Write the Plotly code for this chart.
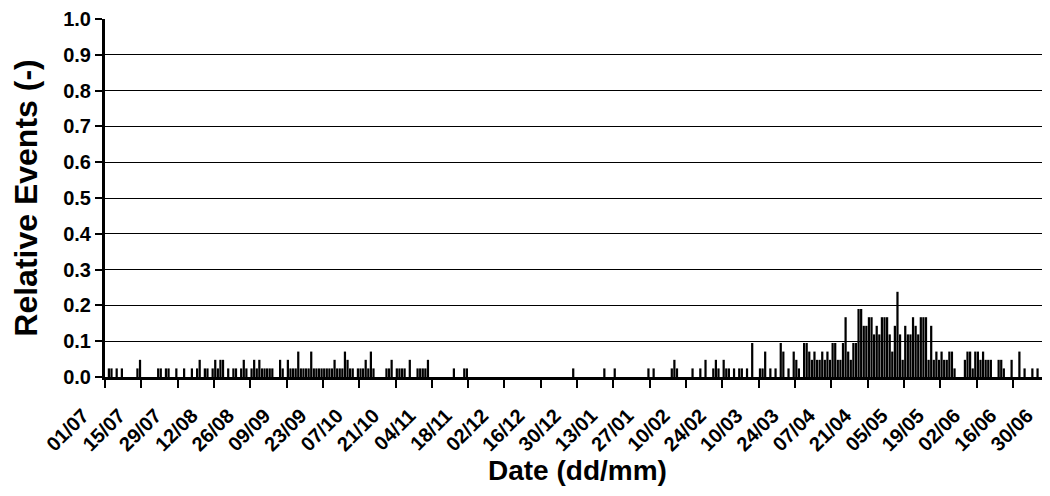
import plotly.graph_objects as go

# Tick labels on the date axis (every 14 days, starting 01/07)
tick_labels = ["01/07", "15/07", "29/07", "12/08", "26/08", "09/09", "23/09",
               "07/10", "21/10", "04/11", "18/11", "02/12", "16/12", "30/12",
               "13/01", "27/01", "10/02", "24/02", "10/03", "24/03", "07/04",
               "21/04", "05/05", "19/05", "02/06", "16/06", "30/06"]

# Daily relative events, one list per month (July .. June)
jul = [0, .024, .024, 0, .024, 0, .024, 0, 0, 0, 0, 0, .024, .048, 0, 0,
       0, 0, 0, 0, .024, .024, 0, .024, .024, 0, 0, .024, 0, 0, .024]
aug = [0, 0, .024, 0, .024, .048, 0, .024, .024, 0, .024, .048, .024, .048,
       .048, 0, .024, 0, .024, .024, 0, .024, .048, .024, 0, .024, .048, .024,
       .048, .024, .024]
sep = [.024, .024, .024, 0, 0, .048, .024, 0, .048, .024, .024, .024, .071,
       .024, .024, .024, .024, .071, .024, .024, .024, .024, .024, .024, .024,
       .024, .048, .024, .024, .024]
oct_ = [.071, .048, .024, .024, 0, .024, .024, .024, .048, .024, .071, .024,
        0, 0, 0, 0, .024, .024, .048, 0, .024, .024, .024, .024, 0, .048, 0,
        0, .024, .024, .024]
nov = [.024, .048, 0, 0, 0, 0, 0, 0, 0, 0, 0, .024, 0, 0, 0, .024, .024, 0,
       0, 0, 0, 0, 0, 0, 0, 0, 0, 0, 0, 0]
dec = [0, 0, 0, 0, 0, 0, 0, 0, 0, 0, 0, 0, 0, 0, 0, 0, 0, 0, 0, 0, 0, 0, 0,
       0, 0, 0, 0, .024, 0, 0, 0]
jan = [0, 0, 0, 0, 0, 0, 0, 0, .024, 0, 0, 0, .024, 0, 0, 0, 0, 0, 0, 0, 0,
       0, 0, 0, 0, .024, 0, .024, 0, 0, 0]
feb = [0, 0, 0, .024, .048, .024, 0, 0, 0, 0, 0, .024, 0, 0, .024, 0, .048,
       0, 0, .024, .048, .024, 0, .048, .024, .024, 0, .024]
mar = [0, .024, .024, 0, .024, 0, .095, 0, 0, .024, .024, .071, 0, .024, 0,
       .024, 0, .095, .071, 0, .024, 0, .071, .048, .024, 0, .095, .095, .071,
       .048, .071]
apr = [.048, .048, .071, .048, .071, .048, .095, .095, .048, .048, .095, .167,
       .071, .048, .095, .095, .190, .190, .143, .143, .167, .167, .119, .143,
       .119, .167, .167, .167, .119, .071]
may = [.143, .238, .119, .048, .143, .119, .119, .167, .143, .119, .167, .167,
       .167, .048, .143, .048, .071, .048, .071, .048, .048, .071, .071, .024,
       0, 0, 0, .048, .071, .071, .024]
jun = [.071, .071, .048, .071, .048, .048, .048, 0, 0, .048, .048, .024, 0, 0,
       .048, 0, 0, .071, 0, .024, 0, 0, .024, 0, .024, 0, 0, 0, 0, 0]

values = jul + aug + sep + oct_ + nov + dec + jan + feb + mar + apr + may + jun
day_index = list(range(len(values)))
bar_x = [d + 0.5 for d in day_index]
tick_vals = [14 * i for i in range(len(tick_labels))]

FONT = "Liberation Sans, Arial, sans-serif"

fig = go.Figure(go.Bar(x=bar_x, y=values, marker=dict(color="black", line=dict(width=0)),
                       width=0.86))

# the page body adds an 8 px offset, so the figure is 8 px smaller
fig.update_layout(
    width=1042, height=488,
    margin=dict(l=97, r=0, t=11, b=119),
    paper_bgcolor="white", plot_bgcolor="white",
    showlegend=False,
    font=dict(family=FONT, color="black"),
    annotations=[dict(text="Date (dd/mm)", xref="paper", yref="paper",
                      x=0.5, y=-0.262, xanchor="center", yanchor="middle",
                      showarrow=False,
                      font=dict(family=FONT, size=28, weight="bold", color="black"))],
)
fig.update_xaxes(
    range=[0, 364.3], automargin=False,
    tickmode="array", tickvals=tick_vals, ticktext=tick_labels,
    tickangle=-45, ticklabeloverflow="allow",
    ticks="outside", ticklen=8, tickwidth=2, tickcolor="black",
    ticklabelstandoff=8, ticklabelshift=-22,
    showline=True, linecolor="black", linewidth=3,
    showgrid=False, zeroline=False,
    tickfont=dict(family=FONT, size=20, weight="bold", color="black"),
)
fig.update_yaxes(
    range=[0, 1.0], dtick=0.1, tick0=0, tickformat=".1f", automargin=False,
    ticks="outside", ticklen=7, tickwidth=2, tickcolor="black",
    showline=True, linecolor="black", linewidth=3,
    showgrid=True, gridcolor="black", gridwidth=1, zeroline=False,
    tickfont=dict(family=FONT, size=20, weight="bold", color="black"),
    title=dict(text="Relative Events (-)", font=dict(family=FONT, size=32, weight="bold", color="black"),
               standoff=33),
)

fig.write_html("out.html")
